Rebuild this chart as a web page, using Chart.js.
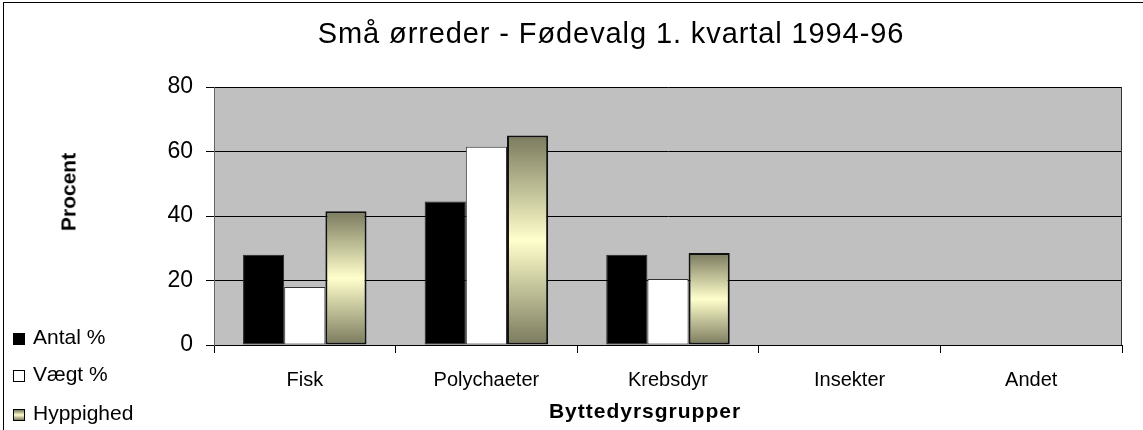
<!DOCTYPE html>
<html>
<head>
<meta charset="utf-8">
<script src="https://cdn.jsdelivr.net/npm/chart.js@4"></script>
<style>
  body { margin: 0; background: #fff; }
  #wrap { position: relative; width: 1143px; height: 430px; overflow: hidden;
          font-family: 'Liberation Sans', Arial, sans-serif; color: #000; }
  #frame { position: absolute; left: 3px; top: 2px; width: 1145px; height: 435px;
           border-left: 1px solid #000; border-top: 1px solid #000; }
  canvas { position: absolute; left: 0; top: 0; }
  .txt { position: absolute; white-space: nowrap; line-height: 1; }
  #title { left: 311px; width: 600px; top: 19px; text-align: center; font-size: 29px; letter-spacing: 0.9px; }
  #ytitle { left: 68px; top: 192px; font-size: 21px; font-weight: bold;
            transform: translate(-50%, -50%) rotate(-90deg); }
  #xtitle { left: 545px; width: 200px; top: 400px; text-align: center; font-size: 21px;
            font-weight: bold; letter-spacing: 1px; }
  .leg { position: absolute; left: 13px; font-size: 21px; line-height: 21px; white-space: nowrap; }
  .leg span.box { position: absolute; left: 0; top: 7px; width: 10px; height: 10px; border: 1px solid #000; box-sizing: content-box; }
  .leg span.lbl { position: absolute; left: 20px; top: 0; }
</style>
</head>
<body>
<div id="wrap">
  <div id="frame"></div>
  <canvas id="food_chart" width="1143" height="430"></canvas>
  <div class="txt" id="title">Små ørreder - Fødevalg 1. kvartal 1994-96</div>
  <div class="txt" id="ytitle">Procent</div>
  <div class="txt" id="xtitle">Byttedyrsgrupper</div>
  <div id="legend"></div>
</div>
<script>
const categories = ["Fisk", "Polychaeter", "Krebsdyr", "Insekter", "Andet"];
const series_names = ["Antal %", "Vægt %", "Hyppighed"];
const antal = [28, 44.5, 28, 0, 0];
const vaegt = [18, 61.5, 20.5, 0, 0];
const hyppighed = [41.5, 65, 28.5, 0, 0];
const y_ticks = [0, 20, 40, 60, 80];

// shaded fill for the Hyppighed bars (dark - light - dark)
const shade_fill = (ctx) => {
  const chart = ctx.chart;
  if (!chart.chartArea || ctx.type !== "data") return "#d8d8a8";
  const y = chart.scales.y;
  const top = y.getPixelForValue(ctx.raw);
  const base = y.getPixelForValue(0);
  if (Math.abs(base - top) < 1) return "#d8d8a8";
  const g = chart.ctx.createLinearGradient(0, top, 0, base);
  g.addColorStop(0, "#7a7a5e");
  g.addColorStop(0.5, "#ffffcc");
  g.addColorStop(1, "#7a7a5e");
  return g;
};

const border_if_value = (w) => (ctx) => (ctx.raw ? w : 0);

const plot_background = {
  id: "plot_background",
  beforeDraw(chart) {
    const { ctx, chartArea: a } = chart;
    ctx.save();
    ctx.fillStyle = "#c0c0c0";
    ctx.fillRect(a.left, a.top, a.right - a.left, a.bottom - a.top);
    ctx.restore();
  },
  beforeDatasetsDraw(chart) {
    const { ctx, chartArea: a } = chart;
    ctx.save();
    ctx.strokeStyle = "#333";
    ctx.lineWidth = 1;
    ctx.beginPath();
    ctx.moveTo(Math.round(a.right) - 0.5, a.top);
    ctx.lineTo(Math.round(a.right) - 0.5, a.bottom);
    ctx.stroke();
    ctx.restore();
  },
};

Chart.defaults.font.family = "'Liberation Sans', Arial, sans-serif";
Chart.defaults.color = "#000";

const data_food = {
  labels: categories,
  datasets: [
    {
      label: series_names[0],
      data: antal,
      backgroundColor: "#000",
      borderColor: "#222",
      borderWidth: border_if_value(1),
      borderSkipped: false,
    },
    {
      label: series_names[1],
      data: vaegt,
      backgroundColor: "#fff",
      borderColor: "#333",
      borderWidth: border_if_value(1),
      borderSkipped: false,
    },
    {
      label: series_names[2],
      data: hyppighed,
      backgroundColor: shade_fill,
      borderColor: "#111",
      borderWidth: border_if_value(2),
      borderSkipped: false,
    },
  ],
};

const config_food = {
  type: "bar",
  data: data_food,
  plugins: [plot_background],
  options: {
    responsive: false,
    animation: false,
    events: [],
    layout: { padding: { top: 87, right: 21, bottom: 0, left: 0 } },
    datasets: { bar: { categoryPercentage: 0.68, barPercentage: 1.0 } },
    plugins: {
      legend: { display: false },
      title: { display: false },
      tooltip: { enabled: false },
    },
    scales: {
      x: {
        afterFit: (s) => { s.height = 85; },
        grid: { offset: true, drawOnChartArea: false, drawTicks: true, tickLength: 8, color: "#000" },
        border: { display: true, color: "#000" },
        ticks: { font: { size: 20 }, padding: 15, maxRotation: 0 },
      },
      y: {
        min: 0,
        max: 80,
        afterFit: (s) => { s.width = 214; },
        afterBuildTicks: (s) => { s.ticks = y_ticks.map((v) => ({ value: v })); },
        grid: { color: "#000", lineWidth: 1, tickLength: 8 },
        border: { display: true, color: "#666" },
        ticks: { font: { size: 23 }, padding: 13 },
      },
    },
  },
};

// legend, built from the series
const legend_rows = [
  { top: 326, fill: "#000" },
  { top: 363, fill: "#fff" },
  { top: 402, fill: "linear-gradient(#7a7a5e, #ffffcc, #7a7a5e)" },
];
const legend_el = document.getElementById("legend");
series_names.forEach((name, i) => {
  const row = document.createElement("div");
  row.className = "leg";
  row.style.top = legend_rows[i].top + "px";
  row.innerHTML = `<span class="box" style="background:${legend_rows[i].fill}"></span><span class="lbl">${name}</span>`;
  legend_el.appendChild(row);
});

var ctx_food = document.getElementById("food_chart");
var food_chart = new Chart(ctx_food, config_food);
</script>
</body>
</html>
